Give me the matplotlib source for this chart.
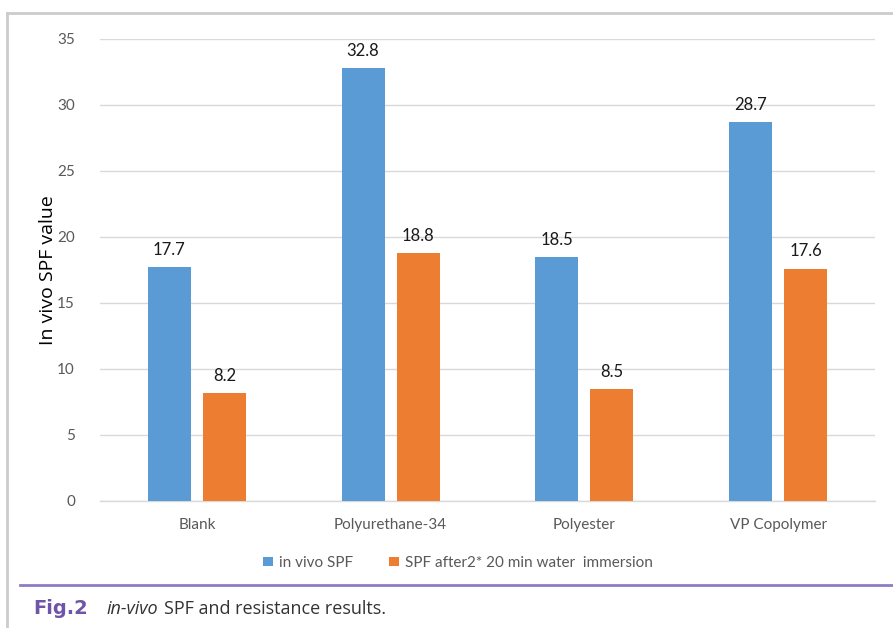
import matplotlib
matplotlib.use("Agg")
import matplotlib.pyplot as plt
import numpy as np
from matplotlib.lines import Line2D
from matplotlib.patches import Patch

categories = ["Blank", "Polyurethane-34", "Polyester", "VP Copolymer"]
in_vivo_spf = [17.7, 32.8, 18.5, 28.7]
spf_after_immersion = [8.2, 18.8, 8.5, 17.6]
series_names = ["in vivo SPF", "SPF after2* 20 min water  immersion"]
y_ticks = [0, 5, 10, 15, 20, 25, 30, 35]

BLUE = "#5B9BD5"
ORANGE = "#ED7D31"
GRID = "#D9D9D9"
TICK = "#595959"

W, H = 893, 628
fig = plt.figure(figsize=(W / 100, H / 100), dpi=100)
fig.patch.set_facecolor("white")

ax = fig.add_axes([100 / W, 1 - 501 / H, 775 / W, 462 / H])
x = np.arange(len(categories))
width = 0.222
offset = 0.142
b1 = ax.bar(x - offset, in_vivo_spf, width, color=BLUE, zorder=3)
b2 = ax.bar(x + offset, spf_after_immersion, width, color=ORANGE, zorder=3)

for bars, vals in ((b1, in_vivo_spf), (b2, spf_after_immersion)):
    for rect, v in zip(bars, vals):
        ax.text(rect.get_x() + rect.get_width() / 2, v + 0.7, f"{v:.1f}",
                ha="center", va="bottom", fontsize=12, color="#1a1a1a",
                family="Lato")

ax.set_xlim(-0.5, len(categories) - 0.5)
ax.set_ylim(0, 35)
ax.set_yticks(y_ticks)
ax.set_xticks(x)
ax.set_xticklabels(categories)
ax.yaxis.grid(True, color=GRID, linewidth=1.0, zorder=0)
ax.set_axisbelow(True)
for s in ("top", "right", "left"):
    ax.spines[s].set_visible(False)
ax.spines["bottom"].set_color(GRID)
ax.spines["bottom"].set_linewidth(1.0)
ax.tick_params(axis="both", length=0, colors=TICK, labelsize=11)
ax.tick_params(axis="x", pad=12)
ax.tick_params(axis="y", pad=18)
for lab in ax.get_xticklabels() + ax.get_yticklabels():
    lab.set_family("Lato")
ax.set_ylabel("In vivo SPF value", fontsize=14, color="black",
              family="Open Sans", labelpad=0)

handles = [Patch(facecolor=BLUE), Patch(facecolor=ORANGE)]
leg = fig.legend(handles, series_names, loc="center", bbox_to_anchor=(458 / W, 1 - 563 / H),
                 ncol=2, frameon=False, handlelength=0.6, handleheight=0.6,
                 handletextpad=0.4, columnspacing=2.4, prop={"family": "Lato", "size": 11})
for t in leg.get_texts():
    t.set_color(TICK)

# page frame and caption rule
fig.add_artist(Line2D([7 / W, 1], [1 - 13 / H, 1 - 13 / H], color="#CCCCCC", lw=2))
fig.add_artist(Line2D([7 / W, 7 / W], [0, 1 - 13 / H], color="#CCCCCC", lw=2))
fig.add_artist(Line2D([20 / W, 1], [1 - 585 / H, 1 - 585 / H], color="#8E7CC3", lw=2))

cy = 1 - 609 / H
fig.text(33 / W, cy, "Fig.2", fontsize=14, fontweight="bold",
         color="#6E55A8", family="Liberation Sans Narrow", va="center", ha="left")
t_it = fig.text(106 / W, cy, "in-vivo", fontsize=13, style="italic",
                color="#333333", family="Open Sans", va="center", ha="left")
renderer = fig.canvas.get_renderer()
bb = t_it.get_window_extent(renderer)
fig.text((bb.x1 + 6) / W, cy, "SPF and resistance results.", fontsize=13,
         color="#333333", family="Open Sans", va="center", ha="left")

fig.savefig("out.png", dpi=100, facecolor="white")
